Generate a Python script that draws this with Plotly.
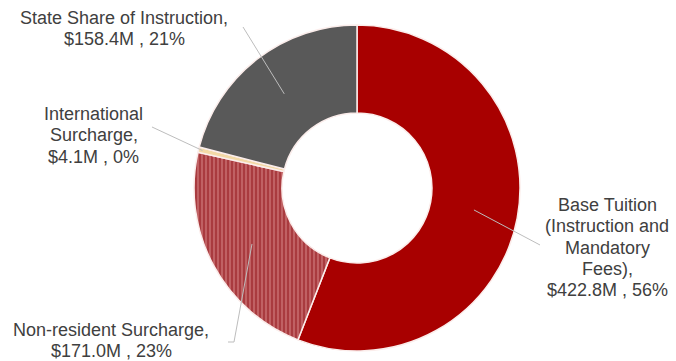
import math
import plotly.graph_objects as go

# Revenue sources (millions of dollars), clockwise from 12 o'clock
labels = [
    "Base Tuition (Instruction and Mandatory Fees)",
    "Non-resident Surcharge",
    "International Surcharge",
    "State Share of Instruction",
]
values = [422.8, 171.0, 4.1, 158.4]
percent_labels = [56, 23, 0, 21]
label_lines = [
    ["Base Tuition", "(Instruction and", "Mandatory", "Fees),"],
    ["Non-resident Surcharge,"],
    ["International", "Surcharge,"],
    ["State Share of Instruction,"],
]
colors = ["#A80000", "#A93B3F", "#F3D9A6", "#595959"]

W, H = 676, 361
CX, CY, R = 357, 188, 163          # donut centre and outer radius (px)
HOLE = 0.46

total = sum(values)
value_text = [f"${v:.1f}M , {p}%" for v, p in zip(values, percent_labels)]

fig = go.Figure(go.Pie(
    labels=labels,
    values=values,
    sort=False,
    direction="clockwise",
    rotation=0,
    hole=HOLE,
    textinfo="none",
    hoverinfo="label+value+percent",
    marker=dict(
        colors=colors,
        line=dict(color="#FBEDEB", width=1.5),
        pattern=dict(
            shape=["", "|", "", ""],
            fgcolor=["#A80000", "#D07A7C", "#F3D9A6", "#595959"],
            bgcolor=colors,
            size=4,
            solidity=0.3,
        ),
    ),
    domain=dict(x=[(CX - R) / W, (CX + R) / W],
                y=[(H - CY - R) / H, (H - CY + R) / H]),
    showlegend=False,
))


def px_to_paper(x, y):
    return x / W, 1 - y / H


def slice_point(i, r):
    """Pixel point at radius r on the mid-angle of slice i."""
    start = sum(values[:i]) / total
    mid = (start + values[i] / total / 2) * 2 * math.pi
    return CX + r * math.sin(mid), CY - r * math.cos(mid)


# Label block placement: (centre x, first-line y) in px
label_pos = [(607, 205), (111, 330), (94, 114), (124, 18)]
LINE_PITCH = 21.3

annotations = []
for i, (lines, (lx, ly)) in enumerate(zip(label_lines, label_pos)):
    all_lines = lines + [value_text[i]]
    for k, t in enumerate(all_lines):
        x, y = px_to_paper(lx, ly + k * LINE_PITCH)
        annotations.append(dict(
            x=x, y=y, xref="paper", yref="paper", text=t, showarrow=False,
            xanchor="center", yanchor="middle",
            font=dict(family="Liberation Sans, Arial, sans-serif", size=18, color="#404040"),
        ))

# Leader lines from slices to their labels
mid_r = R * (1 + HOLE) / 2
leaders = [
    (slice_point(0, mid_r), [(540, 245)]),
    (slice_point(1, mid_r), [(234, 342), (228, 342)]),
    (slice_point(2, R - 4), [(152, 127)]),
    (slice_point(3, mid_r), [(243, 27)]),
]
shapes = []
for (sx, sy), pts in leaders:
    path_pts = [(sx, sy)] + pts
    p = " ".join(
        ("M" if j == 0 else "L") + f"{px_to_paper(x, y)[0]:.5f},{px_to_paper(x, y)[1]:.5f}"
        for j, (x, y) in enumerate(path_pts)
    )
    shapes.append(dict(type="path", path=p, xref="paper", yref="paper",
                       line=dict(color="#BDBDBD", width=1)))

fig.update_layout(
    width=W, height=H,
    margin=dict(l=0, r=0, t=0, b=0),
    paper_bgcolor="white",
    plot_bgcolor="white",
    annotations=annotations,
    shapes=shapes,
)

fig.write_html("out.html")
